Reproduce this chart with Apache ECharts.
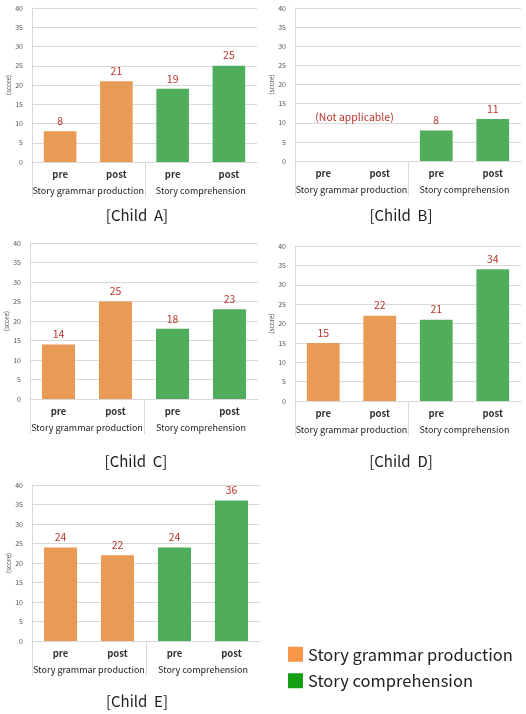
<!DOCTYPE html>
<html>
<head>
<meta charset="utf-8">
<script src="https://cdn.jsdelivr.net/npm/echarts@6/dist/echarts.min.js"></script>
<style>
  html, body { margin: 0; padding: 0; background: #fff; }
  #main { width: 526px; height: 714px; }
</style>
</head>
<body>
<div id="main"></div>
<script>
// data
var stages = ['pre', 'post', 'pre', 'post'];
var groups = ['Story grammar production', 'Story comprehension'];
var children = ['[Child  A]', '[Child  B]', '[Child  C]', '[Child  D]', '[Child  E]'];
var grammarScores = [[8, 21], [null, null], [14, 25], [15, 22], [24, 22]];
var comprehensionScores = [[19, 25], [8, 11], [18, 23], [21, 34], [24, 36]];
var yTicks = [0, 5, 10, 15, 20, 25, 30, 35, 40];

// panel boxes (plot area) and title positions
var panels = [
  { left: 32, top: 8, width: 225, height: 154, tx: 132, ty: 203 },
  { left: 295, top: 8, width: 226, height: 153, tx: 396, ty: 203 },
  { left: 30, top: 243, width: 228, height: 156, tx: 131, ty: 449 },
  { left: 295, top: 246, width: 226, height: 155, tx: 396, ty: 449 },
  { left: 32, top: 485, width: 228, height: 156, tx: 132, ty: 689 }
];

var font = 'Noto Sans CJK KR';
var orange = '#E99A55';
var green = '#50AD5C';
var labelRed = '#B8352A';
var lineGray = '#D9D9D9';
var boxDepth = 35; // height of the label box under the axis

var grids = [], xAxes = [], yAxes = [], series = [], titles = [];

panels.forEach(function (p, i) {
  grids.push({ left: p.left, top: p.top, width: p.width, height: p.height });
  titles.push({
    text: children[i], left: p.tx, top: p.ty, textAlign: 'center',
    textStyle: { fontFamily: font, fontSize: 15, fontWeight: 'normal', color: '#222' }
  });
  // pre / post
  xAxes.push({
    type: 'category', gridIndex: i, data: stages, position: 'bottom',
    axisLine: { show: true, lineStyle: { color: lineGray } },
    axisTick: { show: false },
    axisLabel: { interval: 0, margin: 8, fontSize: 9.5, fontFamily: font, fontWeight: 600, color: '#333' }
  });
  // group names
  xAxes.push({
    type: 'category', gridIndex: i, data: groups, position: 'bottom',
    axisLine: { show: false },
    axisTick: { show: false },
    axisLabel: { interval: 0, hideOverlap: false, margin: 24, fontSize: 9, fontFamily: font, color: '#222' }
  });
  yAxes.push({
    type: 'value', gridIndex: i, min: 0, max: yTicks[yTicks.length - 1], interval: 5,
    name: '(score)', nameLocation: 'middle', nameGap: 18,
    nameTextStyle: { fontSize: 6.5, color: '#555', fontFamily: font },
    axisLine: { show: true, lineStyle: { color: lineGray } },
    axisTick: { show: false },
    axisLabel: { fontSize: 7, color: '#555', margin: 9, fontFamily: font },
    splitLine: { lineStyle: { color: lineGray } }
  });
  var lbl = {
    show: true, position: 'top', distance: 5, color: labelRed,
    fontSize: 10.5, fontFamily: font,
    formatter: function (d) { return d.value == null ? '' : d.value; }
  };
  series.push({
    name: groups[0], type: 'bar', xAxisIndex: i * 2, yAxisIndex: i, stack: 's' + i,
    barWidth: '58%', itemStyle: { color: orange }, label: lbl,
    data: [grammarScores[i][0], grammarScores[i][1], '-', '-']
  });
  series.push({
    name: groups[1], type: 'bar', xAxisIndex: i * 2, yAxisIndex: i, stack: 's' + i,
    barWidth: '58%', itemStyle: { color: green }, label: lbl,
    data: ['-', '-', comprehensionScores[i][0], comprehensionScores[i][1]]
  });
});

var chart = echarts.init(document.getElementById('main'));
chart.setOption({
  animation: false,
  textStyle: { fontFamily: font },
  title: titles,
  grid: grids,
  xAxis: xAxes,
  yAxis: yAxes,
  legend: {
    left: 283, top: 641, orient: 'vertical', itemWidth: 15, itemHeight: 15, itemGap: 10,
    icon: 'rect',
    textStyle: { fontSize: 16.5, color: '#222', fontFamily: font },
    data: [
      { name: groups[0], itemStyle: { color: '#F79646' } },
      { name: groups[1], itemStyle: { color: '#16A016' } }
    ]
  },
  series: series
});

// separators under the axis (left edge and between the two groups), no right edge
var graphics = [];
panels.forEach(function (p, i) {
  var q = { xAxisIndex: i * 2, yAxisIndex: i };
  var c0 = chart.convertToPixel(q, [0, 0]);
  var c1 = chart.convertToPixel(q, [1, 0]);
  var c2 = chart.convertToPixel(q, [2, 0]);
  var step = c1[0] - c0[0];
  var xs = [c0[0] - step / 2, (c1[0] + c2[0]) / 2];
  xs.forEach(function (x) {
    x = Math.round(x) + 0.5;
    graphics.push({
      type: 'line', silent: true,
      shape: { x1: x, y1: c0[1], x2: x, y2: c0[1] + boxDepth },
      style: { stroke: lineGray, lineWidth: 1 }
    });
  });
});

// "(Not applicable)" note for child B, placed over the empty group
var pA = chart.convertToPixel({ xAxisIndex: 2, yAxisIndex: 1 }, [0, 11.6]);
var pB = chart.convertToPixel({ xAxisIndex: 2, yAxisIndex: 1 }, [1, 11.6]);
graphics.push({
  type: 'text', x: (pA[0] + pB[0]) / 2 + 3, y: pA[1],
  style: {
    text: '(Not applicable)', fill: labelRed, fontSize: 10.5, fontFamily: font,
    align: 'center', verticalAlign: 'middle'
  }
});
chart.setOption({ graphic: graphics });
</script>
</body>
</html>
